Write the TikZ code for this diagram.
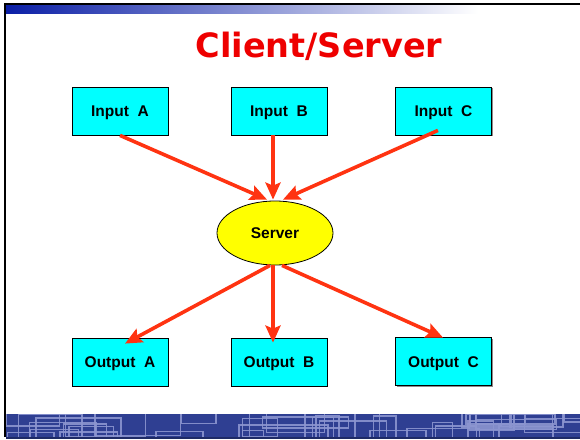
\documentclass[tikz,border=0pt]{standalone}
\usepackage{fontspec}
\setmainfont{Liberation Sans}[BoldFont={Liberation Sans Bold}]
\newfontfamily\titlefont{DejaVu Sans}
\usetikzlibrary{shapes.geometric,arrows.meta,shadows}

\definecolor{boxcyan}{HTML}{00FFFF}
\definecolor{srvyellow}{HTML}{FFFF00}
\definecolor{arrowred}{HTML}{FF3311}
\definecolor{titlered}{HTML}{EE0000}
\definecolor{barblue}{HTML}{0A1EA6}
\definecolor{bandblue}{HTML}{2F3F92}
\definecolor{bandline}{HTML}{8C95D0}
\definecolor{banddark}{HTML}{1E2A66}

\tikzset{
  unitbox/.style={draw=black, line width=0.8pt, fill=boxcyan,
    minimum width=96pt, minimum height=48pt, inner sep=0pt,
    text height=11pt, text depth=0pt,
    font=\fontsize{15.5}{18}\selectfont\bfseries,
    drop shadow={shadow xshift=1.2pt, shadow yshift=-1.2pt, fill=black!45, opacity=1}},
  serverbox/.style={ellipse, draw=black, line width=0.8pt, fill=srvyellow,
    minimum width=116pt, minimum height=64pt, inner sep=0pt,
    text height=11pt, text depth=0pt,
    font=\fontsize{15.5}{18}\selectfont\bfseries},
  flow/.style={draw=arrowred, line width=3.6pt,
    -{Stealth[length=17pt, width=15pt, inset=3pt]}},
  patline/.style={draw=bandline, line width=1.5pt, opacity=0.9}
}

\begin{document}
\begin{tikzpicture}[x=1pt, y=-1pt]
  \useasboundingbox (0,0) rectangle (580,439);
  \fill[white] (0,0) rectangle (580,439);

  % slide frame: top rule, gradient bar, left rule
  \fill[black] (4,3) rectangle (580,5.2);
  \shade[left color=barblue, right color=white] (6,5.2) rectangle (478,13);
  \fill[black] (4,3) rectangle (6.2,437);

  % bottom band with circuit-like pattern
  \fill[bandblue] (6.2,414) rectangle (580,437);
  \begin{scope}
    \clip (6.2,414) rectangle (580,437);
    \pgfmathsetseed{23}
    \foreach \i in {1,...,40} {
      \pgfmathsetmacro\xa{rnd*575}
      \pgfmathsetmacro\w{20+rnd*70}
      \pgfmathsetmacro\ya{406+rnd*28}
      \pgfmathsetmacro\h{9+rnd*20}
      \draw[patline] (\xa,\ya) rectangle ++(\w,\h);
    }
  \end{scope}
  \fill[banddark] (6.2,436.5) rectangle (580,439);

  % title
  \node[anchor=base, text=titlered, inner sep=0pt,
        font=\titlefont\fontsize{33.5}{40}\selectfont\bfseries]
        (title) at (319,57) {Client/Server};

  % inputs
  \node[unitbox] (inA) at (120,111) {Input\ \ A};
  \node[unitbox] (inB) at (279,111) {Input\ \ B};
  \node[unitbox] (inC) at (443.5,111) {Input\ \ C};

  % server
  \node[serverbox] (srv) at (275,233) {Server};

  % outputs
  \node[unitbox] (outA) at (120,362) {Output\ \ A};
  \node[unitbox] (outB) at (279,362) {Output\ \ B};
  \node[unitbox] (outC) at (443.5,361.5) {Output\ \ C};

  % requests into the server
  \draw[flow] (inA.south) -- ([xshift=-8pt, yshift=1pt]srv.north);
  \draw[flow] ([xshift=-6pt]inB.south) -- ([xshift=-2pt, yshift=1pt]srv.north);
  \draw[flow] ([xshift=-5.5pt, yshift=5pt]inC.south) -- ([xshift=8pt, yshift=1pt]srv.north);

  % responses out of the server
  \draw[flow] ([xshift=-5pt]srv.south) -- ([xshift=5pt, yshift=-6pt]outA.north);
  \draw[flow] ([xshift=-2pt]srv.south) -- ([xshift=-6pt, yshift=-5pt]outB.north);
  \draw[flow] ([xshift=7pt]srv.south) -- ([xshift=-0.5pt, yshift=-0.5pt]outC.north);
\end{tikzpicture}
\end{document}
